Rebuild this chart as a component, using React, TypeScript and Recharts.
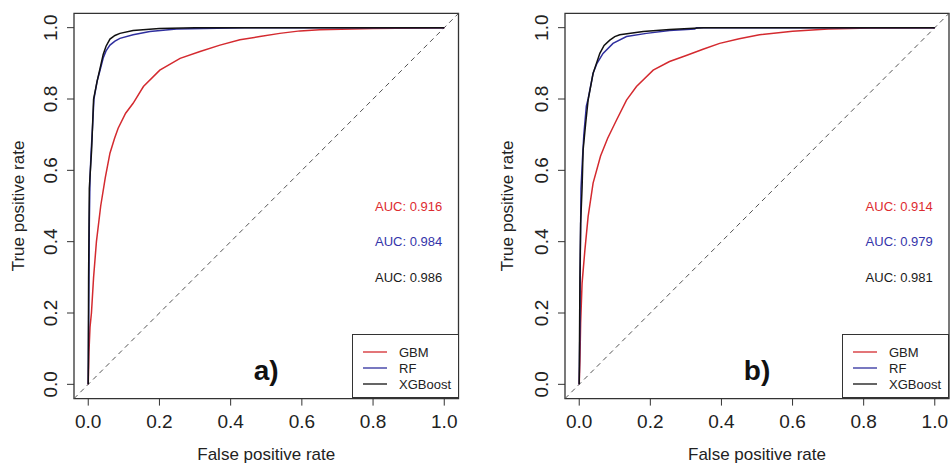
import React from 'react';
import {
  ComposedChart,
  Line,
  XAxis,
  YAxis,
  ReferenceArea,
  ReferenceLine,
  Scatter,
  Legend,
} from 'recharts';

// ---------- data ----------
const tickValues = [0, 0.2, 0.4, 0.6, 0.8, 1.0];
const seriesNames = ['GBM', 'RF', 'XGBoost'];
const seriesColors = ['#d42a2f', '#2f2f9e', '#111111'];
const aucColors = ['#dd2b30', '#3434aa', '#1a1a1a'];
const aucX = 0.9;
const aucY = [0.5, 0.4, 0.3];

// Panel a)
const gbmA_fpr = [0, 0.002, 0.005, 0.009, 0.015, 0.023, 0.035, 0.048, 0.061, 0.074, 0.084, 0.105, 0.126, 0.155, 0.201, 0.258, 0.314, 0.37, 0.426, 0.482, 0.538, 0.595, 0.65, 0.8, 1];
const gbmA_tpr = [0, 0.09, 0.16, 0.2, 0.3, 0.4, 0.5, 0.58, 0.648, 0.69, 0.718, 0.76, 0.788, 0.835, 0.881, 0.914, 0.933, 0.951, 0.966, 0.975, 0.984, 0.991, 0.994, 0.998, 1];
const rfA_fpr = [0, 0.002, 0.003, 0.005, 0.008, 0.012, 0.016, 0.025, 0.033, 0.042, 0.05, 0.061, 0.075, 0.089, 0.126, 0.173, 0.248, 0.44, 1];
const rfA_tpr = [0, 0.29, 0.45, 0.58, 0.65, 0.72, 0.8, 0.85, 0.88, 0.915, 0.935, 0.951, 0.962, 0.97, 0.98, 0.989, 0.996, 1, 1];
const xgbA_fpr = [0, 0.001, 0.003, 0.0095, 0.015, 0.025, 0.033, 0.042, 0.05, 0.061, 0.075, 0.089, 0.126, 0.2, 0.3, 1];
const xgbA_tpr = [0, 0.3, 0.55, 0.657, 0.8, 0.85, 0.885, 0.925, 0.948, 0.968, 0.978, 0.984, 0.992, 0.998, 1, 1];
const aucA = ['AUC: 0.916', 'AUC: 0.984', 'AUC: 0.986'];

// Panel b)
const gbmB_fpr = [0, 0.002, 0.004, 0.008, 0.016, 0.025, 0.039, 0.06, 0.08, 0.105, 0.133, 0.161, 0.208, 0.254, 0.301, 0.35, 0.395, 0.45, 0.507, 0.6, 0.7, 0.82, 1];
const gbmB_tpr = [0, 0.068, 0.171, 0.283, 0.377, 0.47, 0.564, 0.64, 0.69, 0.741, 0.797, 0.835, 0.881, 0.905, 0.922, 0.94, 0.956, 0.969, 0.98, 0.99, 0.996, 0.999, 1];
const rfB_fpr = [0, 0.002, 0.003, 0.005, 0.009, 0.013, 0.02, 0.025, 0.039, 0.05, 0.067, 0.095, 0.133, 0.189, 0.254, 0.325, 0.33, 1];
const rfB_tpr = [0, 0.17, 0.35, 0.55, 0.63, 0.7, 0.78, 0.8, 0.872, 0.9, 0.928, 0.956, 0.975, 0.984, 0.992, 0.996, 1, 1];
const xgbB_fpr = [0, 0.002, 0.004, 0.008, 0.011, 0.018, 0.025, 0.039, 0.058, 0.07, 0.086, 0.1, 0.114, 0.18, 0.254, 0.35, 1];
const xgbB_tpr = [0, 0.3, 0.45, 0.55, 0.657, 0.73, 0.797, 0.872, 0.928, 0.95, 0.965, 0.975, 0.98, 0.989, 0.995, 1, 1];
const aucB = ['AUC: 0.914', 'AUC: 0.979', 'AUC: 0.981'];

const panelLabels = ['a)', 'b)'];
const panelLabelPos = { x: 0.5, y: 0.04 };

// ---------- helpers ----------
const toPoints = (fpr: number[], tpr: number[]) => fpr.map((x, i) => ({ x, y: tpr[i] }));

const FONT = '"Liberation Sans", Arial, Helvetica, sans-serif';
const DOMAIN: [number, number] = [-0.04, 1.04];

const YTick = (props: any) => {
  const { x, y, payload } = props;
  return (
    <text
      x={x}
      y={y}
      transform={`rotate(-90 ${x} ${y})`}
      textAnchor="middle"
      fontSize={19}
      fill="#222"
      fontFamily={FONT}
    >
      {Number(payload.value).toFixed(1)}
    </text>
  );
};

const LegendBox = () => (
  <div
    style={{
      width: 107,
      height: 64,
      boxSizing: 'border-box',
      border: '1.3px solid #333',
      background: '#fff',
    }}
  >
    <svg width={105} height={62} style={{ display: 'block' }}>
      {seriesNames.map((n, i) => (
        <g key={n}>
          <line x1={10} x2={34} y1={17 + i * 16} y2={17 + i * 16} stroke={seriesColors[i]} strokeWidth={1.3} />
          <text x={46} y={17 + i * 16} dy="0.35em" fontSize={13} fill="#222" fontFamily={FONT}>
            {n}
          </text>
        </g>
      ))}
    </svg>
  </div>
);

type PanelProps = {
  series: { fpr: number[]; tpr: number[] }[];
  aucs: string[];
  label: string;
  left: number;
  marginLeft: number;
  marginRight: number;
  yLabelOffset: number;
  legendLeft: number;
};

const Panel = ({ series, aucs, label, left, marginLeft, marginRight, yLabelOffset, legendLeft }: PanelProps) => {
  const aucPts = aucs.map((t, i) => ({ x: aucX, y: aucY[i], text: t, color: aucColors[i] }));
  const labelPts = [{ x: panelLabelPos.x, y: panelLabelPos.y, text: label }];
  return (
    <div style={{ position: 'absolute', left, top: 0, fontFamily: FONT }}>
      <ComposedChart
        width={470}
        height={464}
        margin={{ top: 13.4, right: marginRight, bottom: 4.4, left: marginLeft }}
      >
        <XAxis
          type="number"
          dataKey="x"
          domain={DOMAIN}
          ticks={tickValues}
          interval={0}
          allowDataOverflow
          tickFormatter={(v: number) => v.toFixed(1)}
          axisLine={false}
          tickSize={7}
          tickMargin={9}
          height={61}
          tick={{ fontSize: 19, fill: '#222', fontFamily: FONT }}
          tickLine={{ stroke: '#333' }}
          label={{ value: 'False positive rate', position: 'insideBottom', offset: 0, fontSize: 17, fill: '#222', fontFamily: FONT }}
        />
        <YAxis
          type="number"
          dataKey="y"
          domain={DOMAIN}
          ticks={tickValues}
          interval={0}
          allowDataOverflow
          width={60}
          axisLine={false}
          tickSize={7}
          tickMargin={10}
          tickLine={{ stroke: '#333' }}
          tick={(p: any) => <YTick {...p} />}
          label={{
            value: 'True positive rate',
            angle: -90,
            position: 'insideLeft',
            offset: yLabelOffset,
            style: { textAnchor: 'middle' },
            fontSize: 17,
            fill: '#222',
            fontFamily: FONT,
          }}
        />
        <ReferenceLine
          segment={[
            { x: DOMAIN[0], y: DOMAIN[0] },
            { x: DOMAIN[1], y: DOMAIN[1] },
          ]}
          stroke="#555"
          strokeDasharray="5 4"
          strokeWidth={1}
          ifOverflow="visible"
        />
        {series.map((s, i) => (
          <Line
            key={seriesNames[i]}
            name={seriesNames[i]}
            data={toPoints(s.fpr, s.tpr)}
            dataKey="y"
            type="linear"
            stroke={seriesColors[i]}
            strokeWidth={1.5}
            dot={false}
            activeDot={false}
            isAnimationActive={false}
          />
        ))}
        <Scatter
          data={aucPts}
          dataKey="y"
          isAnimationActive={false}
          shape={(p: any) => (
            <text x={p.cx} y={p.cy} dy="0.35em" textAnchor="middle" fontSize={13} fill={p.payload.color} fontFamily={FONT}>
              {p.payload.text}
            </text>
          )}
        />
        <Scatter
          data={labelPts}
          dataKey="y"
          isAnimationActive={false}
          shape={(p: any) => (
            <text x={p.cx} y={p.cy} dy="0.35em" textAnchor="middle" fontSize={28} fontWeight="bold" fill="#111" fontFamily={FONT}>
              {p.payload.text}
            </text>
          )}
        />
        <ReferenceArea
          x1={DOMAIN[0]}
          x2={DOMAIN[1]}
          y1={DOMAIN[0]}
          y2={DOMAIN[1]}
          fill="none"
          fillOpacity={0}
          stroke="#333"
          strokeWidth={1.3}
          ifOverflow="visible"
        />
        <Legend
          layout="vertical"
          align="center"
          verticalAlign="middle"
          wrapperStyle={{ left: legendLeft, top: 334, width: 107, height: 64 }}
          content={() => <LegendBox />}
        />
      </ComposedChart>
    </div>
  );
};

export default function App() {
  return (
    <div style={{ position: 'absolute', left: 0, top: 0, width: 950, height: 464, background: '#fff', overflow: 'hidden' }}>
      <Panel
        series={[
          { fpr: gbmA_fpr, tpr: gbmA_tpr },
          { fpr: rfA_fpr, tpr: rfA_tpr },
          { fpr: xgbA_fpr, tpr: xgbA_tpr },
        ]}
        aucs={aucA}
        label={panelLabels[0]}
        left={0}
        marginLeft={14}
        marginRight={11.5}
        yLabelOffset={4}
        legendLeft={352}
      />
      <Panel
        series={[
          { fpr: gbmB_fpr, tpr: gbmB_tpr },
          { fpr: rfB_fpr, tpr: rfB_tpr },
          { fpr: xgbB_fpr, tpr: xgbB_tpr },
        ]}
        aucs={aucB}
        label={panelLabels[1]}
        left={480}
        marginLeft={25}
        marginRight={1}
        yLabelOffset={2}
        legendLeft={362}
      />
    </div>
  );
}
